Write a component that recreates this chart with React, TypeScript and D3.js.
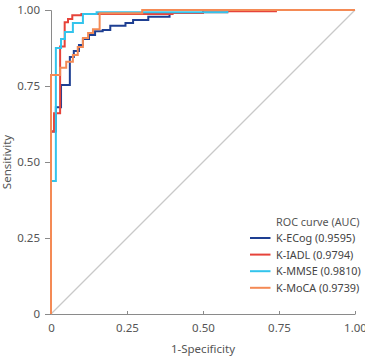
import * as d3 from "d3";
import { useEffect, useRef } from "react";

// ROC staircases as [1-specificity, sensitivity] vertices
const ecogPoints = [
  [0, 0], [0, 0.6], [0.016, 0.6], [0.016, 0.68], [0.033, 0.68], [0.033, 0.753],
  [0.062, 0.753], [0.062, 0.845], [0.075, 0.845], [0.075, 0.865], [0.092, 0.865],
  [0.092, 0.885], [0.105, 0.885], [0.105, 0.905], [0.125, 0.905], [0.125, 0.918],
  [0.145, 0.918], [0.145, 0.93], [0.17, 0.93], [0.17, 0.934], [0.195, 0.934],
  [0.195, 0.948], [0.245, 0.948], [0.245, 0.957], [0.27, 0.957], [0.27, 0.967],
  [0.32, 0.967], [0.32, 0.978], [0.39, 0.978], [0.39, 0.99], [0.5, 0.99], [0.5, 1], [1, 1],
];
const iadlPoints = [
  [0, 0], [0, 0.6], [0.01, 0.6], [0.01, 0.66], [0.03, 0.66], [0.03, 0.88],
  [0.045, 0.88], [0.045, 0.96], [0.056, 0.96], [0.056, 0.97], [0.07, 0.97],
  [0.07, 0.983], [0.1, 0.983], [0.1, 0.987], [0.4, 0.987], [0.4, 0.99], [0.5, 0.99],
  [0.5, 0.993], [0.58, 0.993], [0.58, 0.996], [0.74, 0.996], [0.74, 1], [1, 1],
];
const mmsePoints = [
  [0, 0], [0, 0.4375], [0.016, 0.4375], [0.016, 0.875], [0.033, 0.875], [0.033, 0.905],
  [0.046, 0.905], [0.046, 0.928], [0.072, 0.928], [0.072, 0.957], [0.105, 0.957],
  [0.105, 0.987], [0.15, 0.987], [0.15, 0.993], [0.58, 0.993], [0.58, 1], [1, 1],
];
const mocaPoints = [
  [0, 0], [0, 0.786], [0.03, 0.786], [0.03, 0.81], [0.05, 0.81], [0.05, 0.83],
  [0.072, 0.83], [0.072, 0.852], [0.088, 0.852], [0.088, 0.878], [0.105, 0.878],
  [0.105, 0.908], [0.122, 0.908], [0.122, 0.924], [0.138, 0.924], [0.138, 0.937],
  [0.16, 0.937], [0.16, 0.989], [0.3, 0.989], [0.3, 1], [1, 1],
];

const seriesNames = ["K-ECog", "K-IADL", "K-MMSE", "K-MoCA"];
const aucValues = ["0.9595", "0.9794", "0.9810", "0.9739"];
const seriesColors = ["#1e3f92", "#e6433a", "#33c4ec", "#f48a55"];
const seriesPoints = [ecogPoints, iadlPoints, mmsePoints, mocaPoints];

const tickValues = [0, 0.25, 0.5, 0.75, 1];
const tickLabels = ["0", "0.25", "0.50", "0.75", "1.00"];

const width = 365;
const height = 356;
const font = "'Noto Sans', sans-serif";

export default function App() {
  const ref = useRef<SVGSVGElement>(null);

  useEffect(() => {
    const svg = d3.select(ref.current);
    svg.selectAll("*").remove();

    const x = d3.scaleLinear().domain([0, 1]).range([51, 355]);
    const y = d3.scaleLinear().domain([0, 1]).range([314, 10]);

    // reference diagonal
    svg.append("line")
      .attr("x1", x(0)).attr("y1", y(0))
      .attr("x2", x(1)).attr("y2", y(1))
      .attr("stroke", "#c9c9c9")
      .attr("stroke-width", 1.2);

    const xAxis = svg.append("g")
      .attr("transform", `translate(0,${y(0)})`)
      .call(d3.axisBottom(x).tickValues(tickValues)
        .tickFormat((_, i) => tickLabels[i])
        .tickSizeInner(-3).tickSizeOuter(0).tickPadding(10));

    const yAxis = svg.append("g")
      .attr("transform", `translate(${x(0)},0)`)
      .call(d3.axisLeft(y).tickValues(tickValues)
        .tickFormat((_, i) => tickLabels[i])
        .tickSize(6).tickPadding(5));

    [xAxis, yAxis].forEach(g => {
      g.select(".domain").attr("stroke", "#8a8a8a");
      g.selectAll(".tick line").attr("stroke", "#8a8a8a");
      g.selectAll(".tick text")
        .attr("fill", "#555")
        .style("font-family", font)
        .style("font-size", "11.5px");
    });

    const line = d3.line<number[]>()
      .x(d => x(d[0]))
      .y(d => y(d[1]));

    seriesPoints.forEach((pts, i) => {
      svg.append("path")
        .datum(pts)
        .attr("d", line)
        .attr("fill", "none")
        .attr("stroke", seriesColors[i])
        .attr("stroke-width", 2);
    });

    svg.append("text")
      .attr("x", (x(0) + x(1)) / 2)
      .attr("y", 353)
      .attr("text-anchor", "middle")
      .attr("fill", "#555")
      .style("font-family", font)
      .style("font-size", "11.5px")
      .text("1-Specificity");

    svg.append("text")
      .attr("transform", `translate(11,${(y(0) + y(1)) / 2}) rotate(-90)`)
      .attr("text-anchor", "middle")
      .attr("fill", "#555")
      .style("font-family", font)
      .style("font-size", "11.5px")
      .text("Sensitivity");

    // legend
    const legend = svg.append("g").style("font-family", font).style("font-size", "10.8px");
    legend.append("text")
      .attr("x", 276).attr("y", 226)
      .attr("fill", "#555")
      .text("ROC curve (AUC)");

    seriesNames.forEach((name, i) => {
      const cy = 238 + i * 16.6;
      legend.append("line")
        .attr("x1", 250).attr("x2", 270.5)
        .attr("y1", cy).attr("y2", cy)
        .attr("stroke", seriesColors[i])
        .attr("stroke-width", 2);
      legend.append("text")
        .attr("x", 276).attr("y", cy + 4)
        .attr("fill", "#444")
        .text(`${name} (${aucValues[i]})`);
    });
  }, []);

  return (
    <svg ref={ref} width={width} height={height}
      style={{ position: "absolute", left: 0, top: 0, background: "#fff" }} />
  );
}
